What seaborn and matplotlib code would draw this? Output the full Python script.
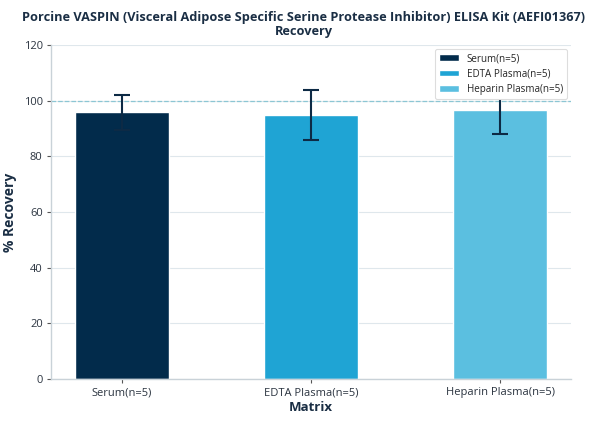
import numpy as np
import pandas as pd
import matplotlib
matplotlib.use("Agg")
import matplotlib.pyplot as plt
import seaborn as sns

matrices = ["Serum(n=5)", "EDTA Plasma(n=5)", "Heparin Plasma(n=5)"]
recovery = [95.8, 95.0, 96.7]
errors = [6.2, 9.0, 8.8]
bar_colors = ["#022b4b", "#1fa4d4", "#5bbfe0"]

df = pd.DataFrame({"Matrix": matrices, "Recovery": recovery})

sns.set_style("white")
plt.rcParams["font.family"] = ["Open Sans", "DejaVu Sans"]

fig = plt.figure(figsize=(6.08, 4.22), dpi=100)
ax = fig.add_axes([0.084, 0.102, 0.855, 0.791])

sns.barplot(data=df, x="Matrix", y="Recovery", hue="Matrix", palette=bar_colors,
            width=0.5, saturation=1, legend=True, ax=ax, zorder=2)
ax.errorbar(np.arange(len(matrices)), recovery, yerr=errors, fmt="none",
            ecolor="#0d2a45", elinewidth=1.5, capsize=6, capthick=1.5, zorder=3)

ax.set_ylim(0, 120)
ax.set_yticks(range(0, 121, 20))
ax.yaxis.grid(True, color="#dfe7ec", linewidth=0.8, zorder=0)
ax.set_axisbelow(True)
ax.axhline(100, color="#8cc6d4", linestyle="--", linewidth=0.9, zorder=1)

for s in ["top", "right"]:
    ax.spines[s].set_visible(False)
for s in ["left", "bottom"]:
    ax.spines[s].set_color("#c9d2d8")
    ax.spines[s].set_linewidth(1)
ax.tick_params(axis="both", colors="#555555", labelcolor="#2b3440", labelsize=8,
               length=3, width=0.8, direction="out", bottom=True, left=True, pad=3)

ax.set_xlabel("Matrix", fontsize=9.5, fontweight="bold", color="#1a2e44", labelpad=2)
ax.set_ylabel("% Recovery", fontsize=10, fontweight="bold", color="#1a2e44", labelpad=5)
fig.suptitle("Porcine VASPIN (Visceral Adipose Specific Serine Protease Inhibitor) ELISA Kit (AEFI01367)\nRecovery",
             fontsize=9.2, fontweight="bold", color="#1a2e44", y=0.975, linespacing=1.1)

leg = ax.legend(loc="upper right", fontsize=7.1, frameon=True, fancybox=True, framealpha=1,
                edgecolor="#dddddd", handlelength=2.0, handleheight=0.7, borderpad=0.45,
                labelspacing=0.45, bbox_to_anchor=(1.0, 1.0), borderaxespad=0.35)
leg.get_frame().set_linewidth(0.8)
leg.set_zorder(5)

fig.savefig("out.png", dpi=100)
